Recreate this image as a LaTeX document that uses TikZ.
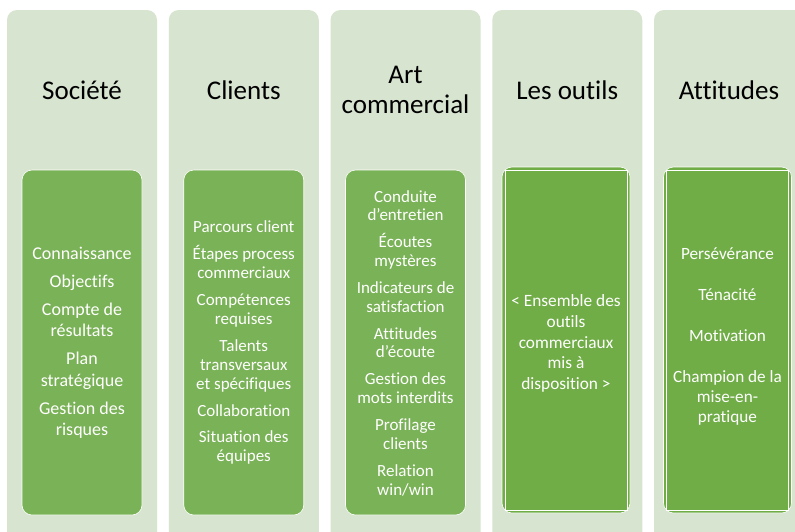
\documentclass[tikz,border=0pt]{standalone}
\usepackage{fontspec}
\setmainfont[Ligatures={NoCommon}]{Carlito}
\definecolor{colbg}{HTML}{D7E4CF}
\definecolor{boxA}{HTML}{7AB257}
\definecolor{boxB}{HTML}{70AD47}
\tikzset{
  colbox/.style={fill=colbg, draw=none, rounded corners=10pt, outer sep=0pt, inner sep=0pt, minimum width=150pt, minimum height=560pt, anchor=north},
  innerA/.style={fill=boxA, draw=white, line width=0.6pt, rounded corners=10pt, outer sep=0pt, inner sep=0pt, minimum width=120pt, minimum height=345pt, anchor=north},
  innerB/.style={fill=boxB, draw=white, line width=0.6pt, rounded corners=10pt, outer sep=0pt, inner sep=0pt, minimum width=128pt, minimum height=346pt, anchor=north},
  innerline/.style={draw=white, line width=0.5pt},
  title/.style={font=\fontsize{27}{30}\selectfont, text=black, align=center},
  body/.style={text=white, align=center, inner sep=0pt}
}
\begin{document}
\begin{tikzpicture}[x=1pt,y=-1pt]
\clip (0,0) rectangle (795,531);
\fill[white] (0,0) rectangle (795,531);

% columns
\node[colbox] (c1) at (82,10) {};
\node[colbox] (c2) at (243.75,10) {};
\node[colbox] (c3) at (405.5,10) {};
\node[colbox] (c4) at (567.25,10) {};
\node[colbox] (c5) at (729,10) {};

% titles
\node[title] (h1) at (82,90) {Société};
\node[title] (h2) at (243.75,90) {Clients};
\node[title] (h3) at (405.5,90) {Art\\commercial};
\node[title] (h4) at (567.25,90) {Les outils};
\node[title] (h5) at (729,90) {Attitudes};

% inner boxes
\node[innerA] (b1) at (82,170) {};
\node[innerA] (b2) at (243.75,170) {};
\node[innerA] (b3) at (405.5,170) {};
\node[innerB] (b4) at (566,167) {};
\node[innerB] (b5) at (727.5,167) {};
\draw[innerline] ([xshift=3pt,yshift=-3pt]b4.north west) rectangle ([xshift=-3pt,yshift=3pt]b4.south east);
\draw[innerline] ([xshift=3pt,yshift=-3pt]b5.north west) rectangle ([xshift=-3pt,yshift=3pt]b5.south east);

% texts
\node[body, font=\fontsize{18}{21.5}\selectfont] (t1) at (82,342.5)
  {Connaissance\\[6.5pt]Objectifs\\[6.5pt]Compte de\\résultats\\[6.5pt]Plan\\stratégique\\[6.5pt]Gestion des\\risques};
\node[body, font=\fontsize{17}{19}\selectfont] (t2) at (243.75,342)
  {Parcours client\\[8pt]Étapes process\\commerciaux\\[8pt]Compétences\\requises\\[8pt]Talents\\transversaux\\et spécifiques\\[8pt]Collaboration\\[7pt]Situation des\\équipes};
\node[body, font=\fontsize{17}{18.7}\selectfont] (t3) at (405.5,343)
  {Conduite\\d’entretien\\[8.3pt]Écoutes\\mystères\\[8.3pt]Indicateurs de\\satisfaction\\[8.3pt]Attitudes\\d’écoute\\[8.3pt]Gestion des\\mots interdits\\[8.3pt]Profilage\\clients\\[8.3pt]Relation\\win/win};
\node[body, font=\fontsize{17.3}{20.75}\selectfont] (t4) at (566,343.5)
  {< Ensemble des\\outils\\commerciaux\\mis à\\disposition >};
\node[body, font=\fontsize{17.2}{20}\selectfont] (t5) at (727.5,336.5)
  {Persévérance\\[21pt]Ténacité\\[21pt]Motivation\\[21pt]Champion de la\\mise-en-\\pratique};
\end{tikzpicture}
\end{document}
